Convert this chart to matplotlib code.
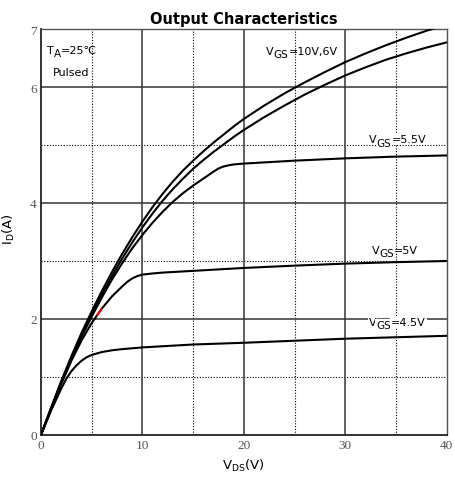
import matplotlib
matplotlib.use('Agg')
import matplotlib.pyplot as plt

plt.rcParams['font.family'] = ['DejaVu Sans']

# drain-source voltage samples (V) and drain current (A) per gate voltage
vds_hi = [0, 1, 2, 3, 4, 5, 6, 7, 8, 9, 10, 11, 12, 13, 14, 15, 16, 17, 18, 19, 20,
          22, 24, 26, 28, 30, 32, 34, 36, 38, 40]
id_10v = [0, 0.47, 0.93, 1.36, 1.76, 2.13, 2.48, 2.81, 3.12, 3.41, 3.68, 3.93, 4.16,
          4.37, 4.56, 4.73, 4.89, 5.04, 5.18, 5.32, 5.45, 5.68, 5.89, 6.08, 6.26, 6.43,
          6.58, 6.72, 6.85, 6.97, 7.08]
id_6v = [0, 0.46, 0.91, 1.33, 1.72, 2.08, 2.42, 2.74, 3.04, 3.32, 3.58, 3.82, 4.04,
         4.24, 4.42, 4.59, 4.74, 4.88, 5.01, 5.14, 5.26, 5.48, 5.68, 5.87, 6.04, 6.2,
         6.34, 6.47, 6.58, 6.68, 6.77]

vds_55 = [0, 1, 2, 3, 4, 5, 6, 7, 8, 9, 10, 11, 12, 13, 14, 15, 16, 16.5, 17, 17.5,
          18, 18.5, 19, 20, 22, 25, 30, 35, 40]
id_55v = [0, 0.46, 0.9, 1.31, 1.69, 2.04, 2.37, 2.68, 2.96, 3.22, 3.45, 3.66, 3.85,
          4.02, 4.17, 4.3, 4.42, 4.48, 4.54, 4.595, 4.63, 4.65, 4.665, 4.68, 4.7, 4.73,
          4.77, 4.8, 4.82]

vds_5 = [0, 1, 2, 3, 4, 5, 6, 7, 8, 8.5, 9, 9.5, 10, 11, 12, 15, 20, 25, 30, 35, 40]
id_5v = [0, 0.45, 0.88, 1.28, 1.63, 1.93, 2.18, 2.39, 2.56, 2.64, 2.7, 2.74, 2.765,
         2.785, 2.8, 2.83, 2.88, 2.92, 2.955, 2.98, 3.0]

vds_45 = [0, 1, 2, 2.5, 3, 3.5, 4, 4.5, 5, 6, 7, 8, 10, 15, 20, 30, 40]
id_45v = [0, 0.42, 0.8, 0.97, 1.1, 1.2, 1.28, 1.34, 1.38, 1.43, 1.46, 1.48, 1.51,
          1.56, 1.59, 1.66, 1.71]

# short red piece on the 5V curve
vds_red = [5.55, 5.95]
id_red = [2.07, 2.17]

x_ticks = [0, 10, 20, 30, 40]
y_ticks = [0, 2, 4, 6, 7]


def sub_label(ax, x, y, main, sub, rest, fs=8, sfs=7.5, box=False):
    bb = dict(facecolor='white', edgecolor='none', pad=0.6) if box else None
    t = ax.text(x, y, main, fontsize=fs, va='bottom', zorder=5, bbox=bb)
    s = ax.annotate(sub, xy=(1, 0), xycoords=t, xytext=(0, -2.3),
                    textcoords='offset points', fontsize=sfs, va='bottom',
                    zorder=5, bbox=bb)
    ax.annotate(rest, xy=(1, 0), xycoords=s, xytext=(0, 2.3),
                textcoords='offset points', fontsize=fs, va='bottom',
                zorder=5, bbox=bb)


def plot_fig():
    fig = plt.figure(figsize=(4.55, 4.81), dpi=100)
    ax = fig.add_axes([0.090, 0.0936, 0.892, 0.844])

    for v in [5, 15, 25, 35]:
        ax.axvline(v, color='black', lw=0.8, ls=(0, (1, 1.5)), zorder=1)
    for v in [1, 3, 5]:
        ax.axhline(v, color='black', lw=0.8, ls=(0, (1, 1.5)), zorder=1)
    for v in [10, 20, 30]:
        ax.axvline(v, color='#444444', lw=1.2, zorder=1)
    for v in [2, 4, 6]:
        ax.axhline(v, color='#333333', lw=1.1, zorder=1)

    kw = dict(color='black', lw=1.5, zorder=3, solid_capstyle='round')
    ax.plot(vds_hi, id_10v, **kw)
    ax.plot(vds_hi, id_6v, **kw)
    ax.plot(vds_55, id_55v, **kw)
    ax.plot(vds_5, id_5v, **kw)
    ax.plot(vds_45, id_45v, **kw)
    ax.plot(vds_red, id_red, color='red', lw=1.5, zorder=4)

    ax.set_xlim(0, 40)
    ax.set_ylim(0, 7)
    ax.set_xticks(x_ticks)
    ax.set_yticks(y_ticks)
    ax.tick_params(length=0, pad=3, labelsize=9.5, labelcolor='#555555')
    for lab in ax.get_xticklabels() + ax.get_yticklabels():
        lab.set_family('Liberation Serif')

    for s in ['left', 'bottom']:
        ax.spines[s].set_color('#222222')
        ax.spines[s].set_linewidth(1.3)
    for s in ['top', 'right']:
        ax.spines[s].set_color('#555555')
        ax.spines[s].set_linewidth(1.0)

    sub_label(ax, 0.62, 6.55, 'T', 'A', '=25℃')
    ax.text(1.21, 6.18, 'Pulsed', fontsize=8, va='bottom')
    sub_label(ax, 22.2, 6.53, 'V', 'GS', '=10V,6V')
    sub_label(ax, 32.35, 5.01, 'V', 'GS', '=5.5V', box=True)
    sub_label(ax, 32.6, 3.10, 'V', 'GS', '=5V')
    sub_label(ax, 32.3, 1.86, 'V', 'GS', '=4.5V', box=True)

    ax.set_xlabel(r'V$_\mathregular{DS}$(V)', fontsize=9.5, labelpad=4)
    ax.set_ylabel(r'I$_\mathregular{D}$(A)', fontsize=9.5)
    ax.yaxis.set_label_coords(-0.058, 0.51)
    ax.set_title('Output Characteristics', fontsize=10.5, fontweight='bold', pad=4)

    fig.savefig('out.png', dpi=100)


if __name__ == '__main__':
    plot_fig()
